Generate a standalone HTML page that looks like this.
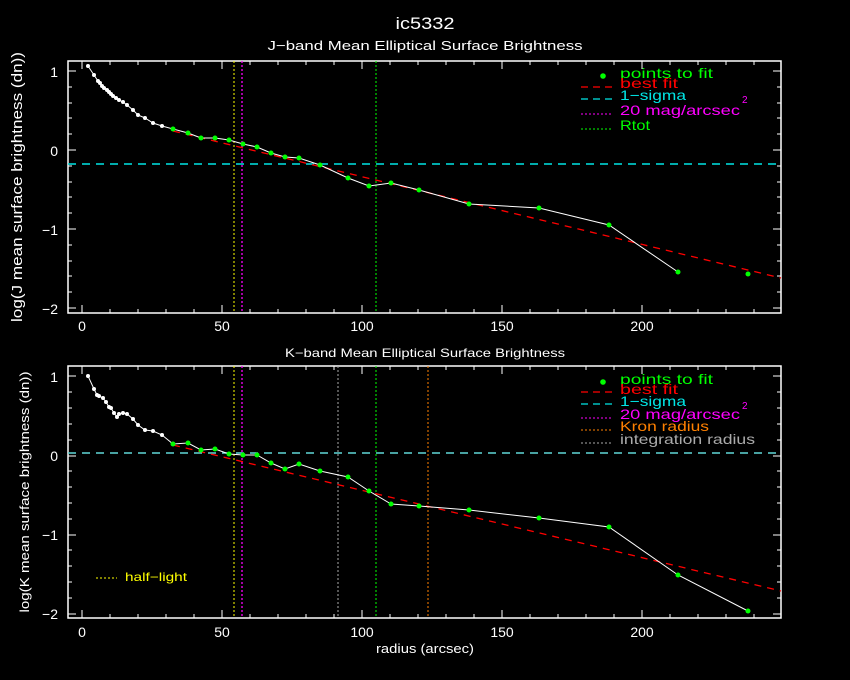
<!DOCTYPE html>
<html><head><meta charset="utf-8"><style>
html,body{margin:0;padding:0;background:#000;}
svg{display:block;}
text{font-family:"Liberation Sans",sans-serif;}
</style></head><body>
<svg width="850" height="680" viewBox="0 0 850 680" xmlns="http://www.w3.org/2000/svg">
<rect width="850" height="680" fill="#000"/>
<text x="425" y="29" fill="#fff" font-size="17" text-anchor="middle" textLength="59" lengthAdjust="spacingAndGlyphs">ic5332</text>
<text x="425" y="50" fill="#fff" font-size="13" text-anchor="middle" textLength="315" lengthAdjust="spacingAndGlyphs">J−band Mean Elliptical Surface Brightness</text>
<text x="425" y="357" fill="#fff" font-size="12" text-anchor="middle" textLength="280" lengthAdjust="spacingAndGlyphs">K−band Mean Elliptical Surface Brightness</text>
<text x="425" y="653" fill="#fff" font-size="13" text-anchor="middle" textLength="98" lengthAdjust="spacingAndGlyphs">radius (arcsec)</text>
<text transform="translate(22,187) rotate(-90)" fill="#fff" font-size="15" text-anchor="middle" textLength="270" lengthAdjust="spacingAndGlyphs">log(J mean surface brightness (dn))</text>
<text transform="translate(29,492) rotate(-90)" fill="#fff" font-size="13" text-anchor="middle" textLength="241" lengthAdjust="spacingAndGlyphs">log(K mean surface brightness (dn))</text>

<g id="axes" stroke="#fff" stroke-width="1.5" fill="none">
<rect x="68" y="61" width="713" height="252"/>
<rect x="68" y="366" width="713" height="252"/>
<path id="ticks" d=""/>
</g>
<g id="dyn"></g>

<!-- TOP PANEL -->
<line x1="68" y1="164" x2="781" y2="164" stroke="#00e5e5" stroke-width="1.5" stroke-dasharray="8,6"/>
<line x1="234" y1="61" x2="234" y2="313" stroke="#ffff00" stroke-width="1" stroke-dasharray="2,2"/>
<line x1="242" y1="61" x2="242" y2="313" stroke="#ff00ff" stroke-width="1.3" stroke-dasharray="2,2"/>
<line x1="376" y1="61" x2="376" y2="313" stroke="#00ff00" stroke-width="1" stroke-dasharray="2,2"/>
<line x1="173" y1="131" x2="781" y2="278" stroke="#ff0000" stroke-width="1.3" stroke-dasharray="7,6"/>
<polyline fill="none" stroke="#fff" stroke-width="1" points="88,66 94,75 98,81 100,83 102,86 104,88 107,90 109,92 111,94 113,96 116,98 119,100 123,102 127,105 133,110 138,115 145,118 153,123 162,126 173,129 188,133 201,138 215,138 229,140 243,144 257,147 271,153 285,157 299,158 320,165 348,178 369,186 391,183 419,190 469,204 539,208 609,225 678,272"/>
<g fill="#fff">
<circle cx="88" cy="66" r="2"/><circle cx="94" cy="75" r="2"/><circle cx="98" cy="81" r="2"/><circle cx="100" cy="83" r="2"/><circle cx="102" cy="86" r="2"/><circle cx="104" cy="88" r="2"/><circle cx="107" cy="90" r="2"/><circle cx="109" cy="92" r="2"/><circle cx="111" cy="94" r="2"/><circle cx="113" cy="96" r="2"/><circle cx="116" cy="98" r="2"/><circle cx="119" cy="100" r="2"/><circle cx="123" cy="102" r="2"/><circle cx="127" cy="105" r="2"/><circle cx="133" cy="110" r="2"/><circle cx="138" cy="115" r="2"/><circle cx="145" cy="118" r="2"/><circle cx="153" cy="123" r="2"/><circle cx="162" cy="126" r="2"/>
</g>
<g fill="#00ff00">
<circle cx="173" cy="129" r="2.5"/><circle cx="188" cy="133" r="2.5"/><circle cx="201" cy="138" r="2.5"/><circle cx="215" cy="138" r="2.5"/><circle cx="229" cy="140" r="2.5"/><circle cx="243" cy="144" r="2.5"/><circle cx="257" cy="147" r="2.5"/><circle cx="271" cy="153" r="2.5"/><circle cx="285" cy="157" r="2.5"/><circle cx="299" cy="158" r="2.5"/><circle cx="320" cy="165" r="2.5"/><circle cx="348" cy="178" r="2.5"/><circle cx="369" cy="186" r="2.5"/><circle cx="391" cy="183" r="2.5"/><circle cx="419" cy="190" r="2.5"/><circle cx="469" cy="204" r="2.5"/><circle cx="539" cy="208" r="2.5"/><circle cx="609" cy="225" r="2.5"/><circle cx="678" cy="272" r="2.5"/><circle cx="748" cy="274" r="2.5"/>
</g>
<!-- top legend -->
<circle cx="603" cy="76" r="2.8" fill="#00ff00"/>
<text x="620" y="78" fill="#00ff00" font-size="14" textLength="93" lengthAdjust="spacingAndGlyphs">points to fit</text>
<line x1="581" y1="87" x2="612" y2="87" stroke="#ff0000" stroke-width="1.3" stroke-dasharray="7,5"/>
<text x="620" y="88" fill="#ff0000" font-size="14" textLength="58" lengthAdjust="spacingAndGlyphs">best fit</text>
<line x1="581" y1="99" x2="612" y2="99" stroke="#00e5e5" stroke-width="1.3" stroke-dasharray="7,5"/>
<text x="620" y="100" fill="#00e5e5" font-size="14" textLength="66" lengthAdjust="spacingAndGlyphs">1−sigma</text>
<line x1="581" y1="114" x2="612" y2="114" stroke="#ff00ff" stroke-width="1" stroke-dasharray="2,2"/>
<text x="620" y="115" fill="#ff00ff" font-size="14" textLength="120" lengthAdjust="spacingAndGlyphs">20 mag/arcsec</text>
<text x="742" y="103" fill="#ff00ff" font-size="10">2</text>
<line x1="581" y1="129" x2="612" y2="129" stroke="#00ff00" stroke-width="1" stroke-dasharray="2,2"/>
<text x="620" y="130" fill="#00ff00" font-size="14" textLength="30" lengthAdjust="spacingAndGlyphs">Rtot</text>

<!-- BOTTOM PANEL -->
<line x1="68" y1="453" x2="781" y2="453" stroke="#60d8d8" stroke-width="1.5" stroke-dasharray="8,6"/>
<line x1="234" y1="366" x2="234" y2="618" stroke="#ffff00" stroke-width="1" stroke-dasharray="2,2"/>
<line x1="242" y1="366" x2="242" y2="618" stroke="#ff00ff" stroke-width="1.3" stroke-dasharray="2,2"/>
<line x1="338" y1="366" x2="338" y2="618" stroke="#aaaaaa" stroke-width="1" stroke-dasharray="2,2"/>
<line x1="376" y1="366" x2="376" y2="618" stroke="#00ff00" stroke-width="1" stroke-dasharray="2,2"/>
<line x1="428" y1="366" x2="428" y2="618" stroke="#ff8000" stroke-width="1" stroke-dasharray="2,2"/>
<line x1="173" y1="445" x2="781" y2="591" stroke="#ff0000" stroke-width="1.3" stroke-dasharray="7,6"/>
<polyline fill="none" stroke="#fff" stroke-width="1" points="88,376 94,389 97,395 99,396 103,398 106,402 109,407 111,408 114,413 117,417 119,414 123,413 127,414 133,419 138,425 145,430 153,431 162,435 173,444 188,443 201,450 215,449 229,454 243,455 257,455 271,463 285,469 299,464 320,471 348,477 369,491 391,504 419,506 469,510 539,518 609,527 678,575 748,611"/>
<g fill="#fff">
<circle cx="88" cy="376" r="2"/><circle cx="94" cy="389" r="2"/><circle cx="97" cy="395" r="2"/><circle cx="99" cy="396" r="2"/><circle cx="103" cy="398" r="2"/><circle cx="106" cy="402" r="2"/><circle cx="109" cy="407" r="2"/><circle cx="111" cy="408" r="2"/><circle cx="114" cy="413" r="2"/><circle cx="117" cy="417" r="2"/><circle cx="119" cy="414" r="2"/><circle cx="123" cy="413" r="2"/><circle cx="127" cy="414" r="2"/><circle cx="133" cy="419" r="2"/><circle cx="138" cy="425" r="2"/><circle cx="145" cy="430" r="2"/><circle cx="153" cy="431" r="2"/><circle cx="162" cy="435" r="2"/>
</g>
<g fill="#00ff00">
<circle cx="173" cy="444" r="2.5"/><circle cx="188" cy="443" r="2.5"/><circle cx="201" cy="450" r="2.5"/><circle cx="215" cy="449" r="2.5"/><circle cx="229" cy="454" r="2.5"/><circle cx="243" cy="455" r="2.5"/><circle cx="257" cy="455" r="2.5"/><circle cx="271" cy="463" r="2.5"/><circle cx="285" cy="469" r="2.5"/><circle cx="299" cy="464" r="2.5"/><circle cx="320" cy="471" r="2.5"/><circle cx="348" cy="477" r="2.5"/><circle cx="369" cy="491" r="2.5"/><circle cx="391" cy="504" r="2.5"/><circle cx="419" cy="506" r="2.5"/><circle cx="469" cy="510" r="2.5"/><circle cx="539" cy="518" r="2.5"/><circle cx="609" cy="527" r="2.5"/><circle cx="678" cy="575" r="2.5"/><circle cx="748" cy="611" r="2.5"/>
</g>
<!-- bottom legend -->
<circle cx="603" cy="382" r="2.8" fill="#00ff00"/>
<text x="620" y="384" fill="#00ff00" font-size="14" textLength="93" lengthAdjust="spacingAndGlyphs">points to fit</text>
<line x1="581" y1="392" x2="612" y2="392" stroke="#ff0000" stroke-width="1.3" stroke-dasharray="7,5"/>
<text x="620" y="394" fill="#ff0000" font-size="14" textLength="58" lengthAdjust="spacingAndGlyphs">best fit</text>
<line x1="581" y1="404" x2="612" y2="404" stroke="#00e5e5" stroke-width="1.3" stroke-dasharray="7,5"/>
<text x="620" y="406" fill="#00e5e5" font-size="14" textLength="66" lengthAdjust="spacingAndGlyphs">1−sigma</text>
<line x1="581" y1="418" x2="612" y2="418" stroke="#ff00ff" stroke-width="1" stroke-dasharray="2,2"/>
<text x="620" y="419" fill="#ff00ff" font-size="14" textLength="120" lengthAdjust="spacingAndGlyphs">20 mag/arcsec</text>
<text x="742" y="409" fill="#ff00ff" font-size="10">2</text>
<line x1="581" y1="430" x2="612" y2="430" stroke="#ff8000" stroke-width="1" stroke-dasharray="2,2"/>
<text x="620" y="431" fill="#ff8000" font-size="14" textLength="89" lengthAdjust="spacingAndGlyphs">Kron radius</text>
<line x1="581" y1="443" x2="612" y2="443" stroke="#aaaaaa" stroke-width="1" stroke-dasharray="2,2"/>
<text x="620" y="444" fill="#aaaaaa" font-size="14" textLength="135" lengthAdjust="spacingAndGlyphs">integration radius</text>
<line x1="96" y1="578" x2="117" y2="578" stroke="#ffff00" stroke-width="1" stroke-dasharray="2,2"/>
<text x="125" y="581" fill="#ffff00" font-size="12" textLength="62" lengthAdjust="spacingAndGlyphs">half−light</text>

<!-- ticks & tick labels -->
<g stroke="#fff" stroke-width="1">
<path d="
M82,313v-8 M110,313v-4 M138,313v-4 M166,313v-4 M194,313v-4 M222,313v-8 M250,313v-4 M278,313v-4 M306,313v-4 M334,313v-4 M362,313v-8 M390,313v-4 M418,313v-4 M446,313v-4 M474,313v-4 M502,313v-8 M530,313v-4 M558,313v-4 M586,313v-4 M614,313v-4 M642,313v-8 M670,313v-4 M698,313v-4 M726,313v-4 M754,313v-4
M82,61v8 M110,61v4 M138,61v4 M166,61v4 M194,61v4 M222,61v8 M250,61v4 M278,61v4 M306,61v4 M334,61v4 M362,61v8 M390,61v4 M418,61v4 M446,61v4 M474,61v4 M502,61v8 M530,61v4 M558,61v4 M586,61v4 M614,61v4 M642,61v8 M670,61v4 M698,61v4 M726,61v4 M754,61v4
M82,618v-8 M110,618v-4 M138,618v-4 M166,618v-4 M194,618v-4 M222,618v-8 M250,618v-4 M278,618v-4 M306,618v-4 M334,618v-4 M362,618v-8 M390,618v-4 M418,618v-4 M446,618v-4 M474,618v-4 M502,618v-8 M530,618v-4 M558,618v-4 M586,618v-4 M614,618v-4 M642,618v-8 M670,618v-4 M698,618v-4 M726,618v-4 M754,618v-4
M82,366v8 M110,366v4 M138,366v4 M166,366v4 M194,366v4 M222,366v8 M250,366v4 M278,366v4 M306,366v4 M334,366v4 M362,366v8 M390,366v4 M418,366v4 M446,366v4 M474,366v4 M502,366v8 M530,366v4 M558,366v4 M586,366v4 M614,366v4 M642,366v8 M670,366v4 M698,366v4 M726,366v4 M754,366v4
M68,71h8 M68,87h4 M68,103h4 M68,118h4 M68,134h4 M68,150h8 M68,166h4 M68,182h4 M68,197h4 M68,213h4 M68,229h8 M68,245h4 M68,261h4 M68,276h4 M68,292h4 M68,308h8
M781,71h-8 M781,87h-4 M781,103h-4 M781,118h-4 M781,134h-4 M781,150h-8 M781,166h-4 M781,182h-4 M781,197h-4 M781,213h-4 M781,229h-8 M781,245h-4 M781,261h-4 M781,276h-4 M781,292h-4 M781,308h-8
M68,376h8 M68,392h4 M68,408h4 M68,424h4 M68,440h4 M68,456h8 M68,471h4 M68,487h4 M68,503h4 M68,519h4 M68,535h8 M68,550h4 M68,566h4 M68,582h4 M68,598h4 M68,614h8
M781,376h-8 M781,392h-4 M781,408h-4 M781,424h-4 M781,440h-4 M781,456h-8 M781,471h-4 M781,487h-4 M781,503h-4 M781,519h-4 M781,535h-8 M781,550h-4 M781,566h-4 M781,582h-4 M781,598h-4 M781,614h-8"/>
</g>
<g fill="#fff" font-size="14" text-anchor="middle">
<text x="82" y="331">0</text><text x="222" y="331">50</text><text x="362" y="331">100</text><text x="502" y="331">150</text><text x="642" y="331">200</text>
<text x="82" y="637">0</text><text x="222" y="637">50</text><text x="362" y="637">100</text><text x="502" y="637">150</text><text x="642" y="637">200</text>
</g>
<g fill="#fff" font-size="14" text-anchor="end">
<text x="58" y="77">1</text><text x="58" y="156">0</text><text x="58" y="235">−1</text><text x="58" y="314">−2</text>
<text x="58" y="382">1</text><text x="58" y="461">0</text><text x="58" y="540">−1</text><text x="58" y="619">−2</text>
</g>
</svg>
</body></html>
